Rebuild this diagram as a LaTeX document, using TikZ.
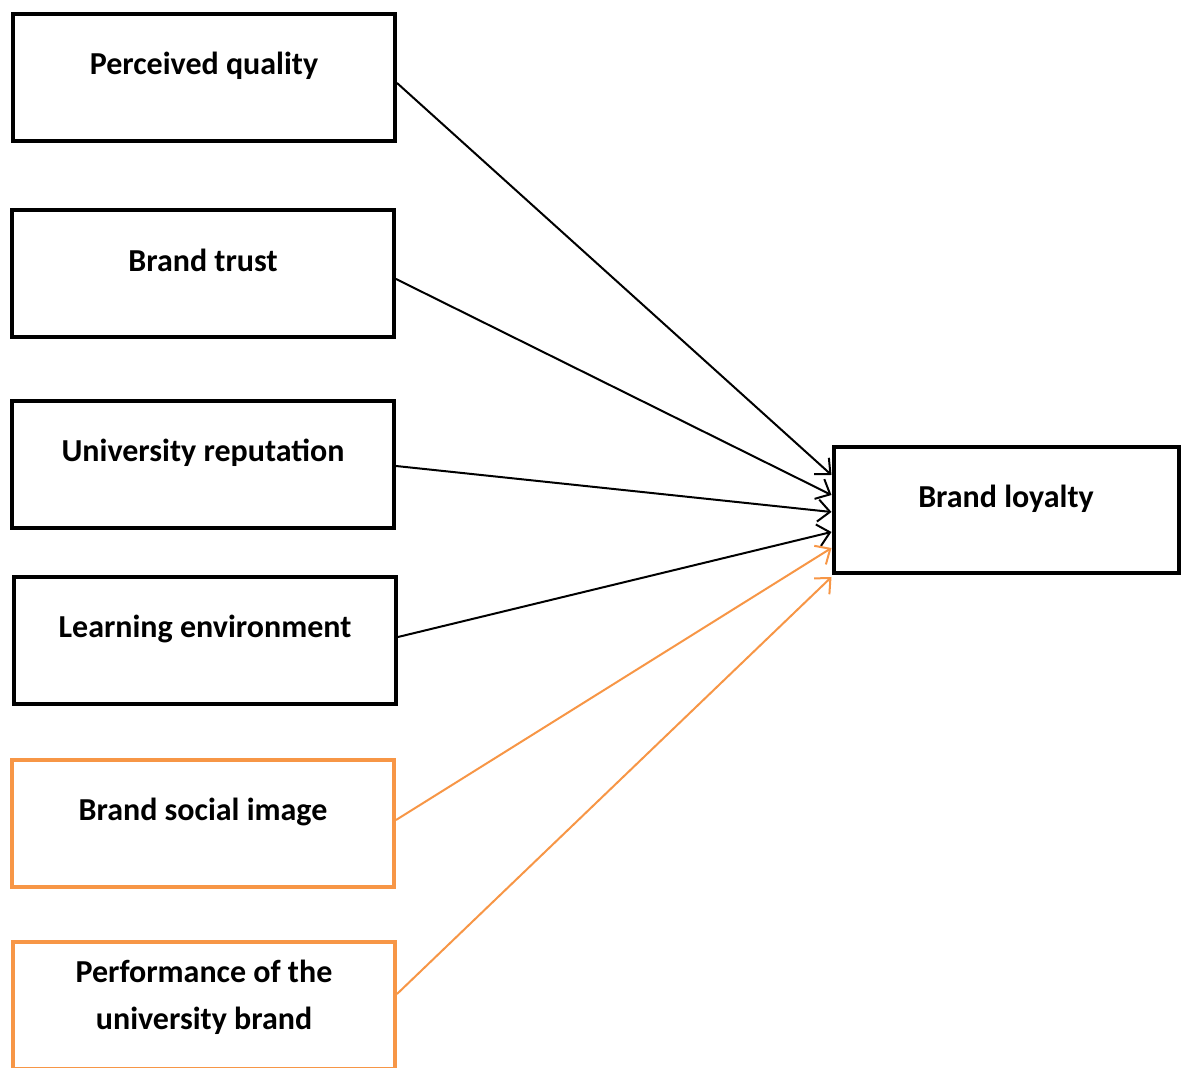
\documentclass[tikz,border=0pt]{standalone}
\usepackage{fontspec}
\setmainfont{Carlito}
\usetikzlibrary{arrows.meta}
\definecolor{factororange}{RGB}{247,150,70}
\tikzset{factor/.style={rectangle,draw,line width=2pt,minimum width=191pt,minimum height=63.5pt,inner sep=0pt,
    font=\fontsize{16}{23.5}\selectfont\bfseries,align=center,text height=12pt,text depth=14.5pt},
  arrow/.style={-{Straight Barb[length=6pt,width=11pt]},line width=1pt}}

\begin{document}
\begin{tikzpicture}[x=0.5pt,y=-0.5pt]
  \path[use as bounding box] (0,0) rectangle (1190,1068);
  \node[factor] (quality) at (204,77.5) {Perceived quality};
  \node[factor] (trust) at (203,274) {Brand trust};
  \node[factor] (reputation) at (203,464.5) {University reputation};
  \node[factor] (environment) at (205,640.5) {Learning environment};
  \node[factor,draw=factororange] (image) at (203,823.5) {Brand social image};
  % two lines: baseline is the last one
  \node[factor,draw=factororange,text height=24pt,text depth=0pt] (performance) at (204,1006) {Performance of the\\university brand};
  \node[factor,minimum width=172.5pt,minimum height=63pt] (loyalty) at (1006,510) {Brand loyalty};
  \foreach \from/\a/\b/\col in {quality/-2.75/17.5/black,trust/-2.5/7.5/black,reputation/-0.75/-1/black,
      environment/1.75/-11/black,image/1.75/-19/factororange,performance/6/-33.5/factororange}
    \draw[arrow,\col] ([yshift=\a pt]\from.east) -- ([yshift=\b pt]loyalty.west);
\end{tikzpicture}
\end{document}
